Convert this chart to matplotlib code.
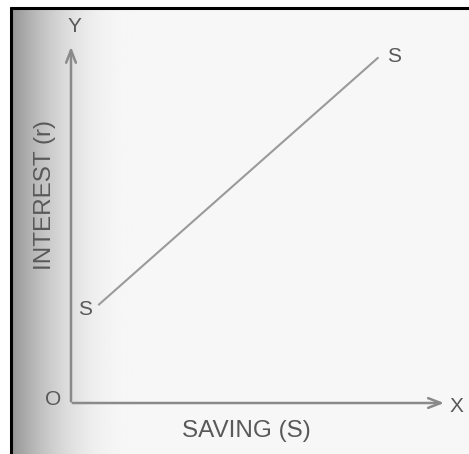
import numpy as np
import matplotlib.pyplot as plt

# supply of saving curve S-S (arbitrary units, origin at O)
saving = [0.75, 8.2]
interest = [2.8, 9.8]
curve_labels = ["S", "S"]

fig = plt.figure(figsize=(4.69, 4.54), dpi=100)
fig.patch.set_facecolor("white")

# scanned page: grey shade along the left edge and a black border
bg = fig.add_axes([0, 0, 1, 1])
bg.set_xlim(0, 469)
bg.set_ylim(454, 0)
bg.axis("off")
paper = 0.968
bg.add_patch(plt.Rectangle((10, 7), 459, 447, color=(paper, paper, paper),
                           lw=0, zorder=1))
t = np.linspace(0, 1, 300)
shade = 0.57 + (paper - 0.57) * (1 - (1 - t) ** 2.2)
bg.imshow(np.tile(shade, (10, 1)), cmap="gray", vmin=0, vmax=1,
          extent=[10, 135, 454, 7], aspect="auto", interpolation="bilinear",
          zorder=2)
bg.set_xlim(0, 469)
bg.set_ylim(454, 0)
bg.plot([10, 469], [7.5, 7.5], color="black", lw=2.2, solid_capstyle="butt",
        zorder=3)
bg.plot([10.5, 10.5], [7, 454], color="black", lw=2.2, solid_capstyle="butt",
        zorder=3)

ax = fig.add_axes([71 / 469, 51 / 454, 374 / 469, 352 / 454])
ax.set_xlim(0, 10)
ax.set_ylim(0, 10)
ax.patch.set_alpha(0)
for s in ax.spines.values():
    s.set_visible(False)
ax.set_xticks([])
ax.set_yticks([])

axis_col = "#8a8a8a"
text_col = "#595959"
font = "Liberation Sans"

arrow = dict(arrowstyle="->,head_length=0.9,head_width=0.35",
             color=axis_col, lw=1.8)
ax.annotate("", xy=(10.05, 0), xytext=(-0.03, 0), annotation_clip=False,
            arrowprops=arrow)
ax.annotate("", xy=(0, 10.2), xytext=(0, -0.03), annotation_clip=False,
            arrowprops=arrow)

ax.plot(saving, interest, color="#9a9a9a", lw=1.5)

ax.text(saving[0] - 0.38, interest[0] - 0.15, curve_labels[0], fontsize=15,
        family=font, color=text_col, ha="center", va="center")
ax.text(saving[1] + 0.45, interest[1] + 0.05, curve_labels[1], fontsize=15,
        family=font, color=text_col, ha="center", va="center")

ax.text(-0.48, 0.1, "O", fontsize=15, family=font, color=text_col,
        ha="center", va="center")
ax.text(10.3, -0.1, "X", fontsize=15, family=font, color=text_col,
        ha="center", va="center")
ax.text(0.1, 10.7, "Y", fontsize=15, family=font, color=text_col,
        ha="center", va="center")

ax.text(4.7, -0.8, "SAVING (S)", fontsize=17.5, family=font, color=text_col,
        ha="center", va="center")
ax.text(-0.7, 5.9, "INTEREST (r)", fontsize=17.5, family=font, color=text_col,
        ha="center", va="center", rotation=90)

fig.savefig("out.png", dpi=100)
